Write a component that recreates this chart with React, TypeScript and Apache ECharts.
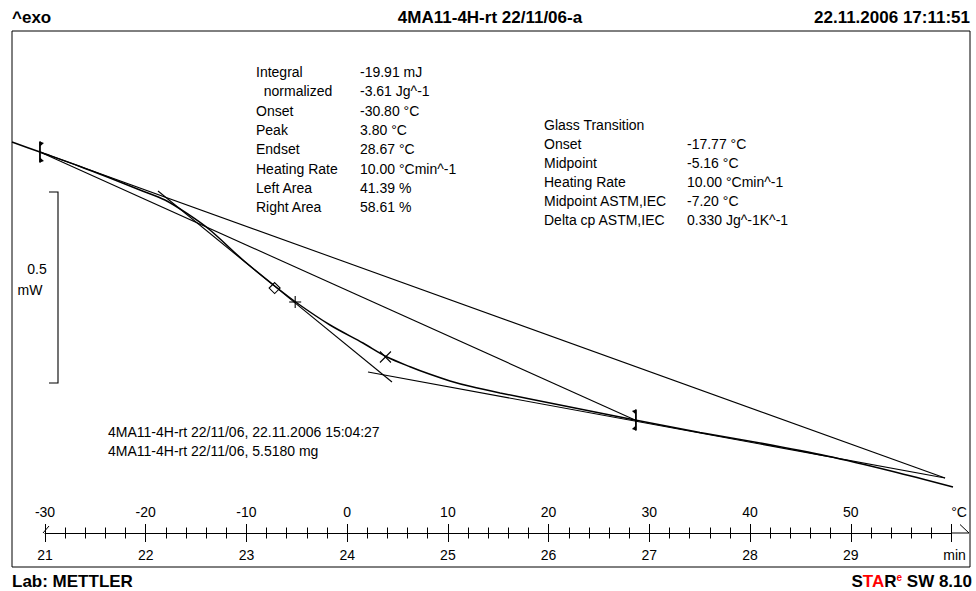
import React, { useEffect, useRef } from "react";
import * as echarts from "echarts";

// Measured DSC curve: time (min) against heat flow (mW), exo up
const curveTime = [
  20.672, 20.95, 21.348, 21.645, 21.943, 22.191, 22.41, 22.638, 22.966, 23.294,
  23.502, 23.83, 24.157, 24.396, 24.624, 24.823, 25.021, 25.22, 25.518, 26.113,
  26.858, 27.503, 28.099, 28.764, 29.419, 30.015,
];
const curveHeatFlow = [
  -0.4906, -0.5168, -0.5545, -0.5848, -0.6162, -0.6424, -0.6777, -0.7209, -0.7995,
  -0.8702, -0.912, -0.9696, -1.0168, -1.0534, -1.0788, -1.0987, -1.116, -1.1301,
  -1.1474, -1.1791, -1.2183, -1.251, -1.2785, -1.3126, -1.3531, -1.3937,
];

// Evaluation construction lines: [startTime, startHF, endTime, endHF]
const integrationBaseline = [20.95, -0.5168, 26.858, -1.2183];
const tangentBefore = [20.95, -0.5168, 29.936, -1.3702];
const tangentInflection = [22.122, -0.6188, 24.445, -1.1188];
const tangentAfter = [24.207, -1.0927, 29.936, -1.3702];

// Marker temperatures (°C) and the heat flow read at each (mW)
const limitTemps = [-30.5, 28.67];
const limitHeatFlow = [-0.5168, -1.2183];
const midpointAstmTemp = -7.2;
const midpointAstmHF = -0.8728;
const midpointTemp = -5.16;
const midpointHF = -0.9094;
const peakTemp = 3.8;
const peakHF = -1.0534;

// Ruler ticks
const timeTicks = [21, 22, 23, 24, 25, 26, 27, 28, 29, 30];
const tempTicks = [-30, -20, -10, 0, 10, 20, 30, 40, 50, 60];
const startTemp = -30;
const startTime = 21;
const heatingRate = 10; // K/min

// Evaluation result tables
const peakLabels = ["Integral", "  normalized", "Onset", "Peak", "Endset", "Heating Rate", "Left Area", "Right Area"];
const peakValues = ["-19.91 mJ", "-3.61 Jg^-1", "-30.80 °C", "3.80 °C", "28.67 °C", "10.00 °Cmin^-1", "41.39 %", "58.61 %"];
const glassLabels = ["Glass Transition", "Onset", "Midpoint", "Heating Rate", "Midpoint ASTM,IEC", "Delta cp ASTM,IEC"];
const glassValues = ["", "-17.77 °C", "-5.16 °C", "10.00 °Cmin^-1", "-7.20 °C", "0.330 Jg^-1K^-1"];
const sampleLines = ["4MA11-4H-rt 22/11/06, 22.11.2006 15:04:27", "4MA11-4H-rt 22/11/06, 5.5180 mg"];

const FONT_FAMILY = '"Liberation Sans", Arial, sans-serif';
const BODY_FONT = `14px ${FONT_FAMILY}`;
const BOLD_FONT = `bold 17px ${FONT_FAMILY}`;

const toTime = (temp: number) => startTime + (temp - startTemp) / heatingRate;

const segment = (seg: number[]) => [
  [seg[0], seg[1]],
  [seg[2], seg[3]],
];

export default function App() {
  const ref = useRef<HTMLDivElement>(null);

  useEffect(() => {
    document.body.style.margin = "0";
    if (!ref.current) return;
    const chart = echarts.init(ref.current, null, { renderer: "svg" });

    const lineSeries = (data: number[][], width: number, smooth: number | boolean = false) => ({
      type: "line",
      xAxisIndex: 0,
      yAxisIndex: 0,
      data,
      smooth,
      showSymbol: false,
      silent: true,
      clip: false,
      lineStyle: { color: "#000", width },
    });

    const markerData = [
      [toTime(limitTemps[0]), limitHeatFlow[0], 0],
      [toTime(limitTemps[1]), limitHeatFlow[1], 1],
      [toTime(midpointAstmTemp), midpointAstmHF, 2],
      [toTime(midpointTemp), midpointHF, 3],
      [toTime(peakTemp), peakHF, 4],
    ];

    const renderMarker = (_params: any, api: any) => {
      const p = api.coord([api.value(0), api.value(1)]);
      const kind = api.value(2);
      const x = p[0];
      const y = p[1];
      const stroke = { stroke: "#000", lineWidth: 1.1, fill: "none" };
      if (kind === 0 || kind === 1) {
        const d = kind === 0 ? 1 : -1;
        return {
          type: "group",
          children: [
            { type: "line", shape: { x1: x, y1: y - 10.5, x2: x, y2: y + 10.5 }, style: { stroke: "#000", lineWidth: 1.8 } },
            { type: "polygon", shape: { points: [[x, y - 10.5], [x + d * 4, y - 9], [x, y - 5.5]] }, style: { fill: "#000" } },
            { type: "polygon", shape: { points: [[x, y + 10.5], [x + d * 4, y + 9], [x, y + 5.5]] }, style: { fill: "#000" } },
          ],
        };
      }
      if (kind === 2) {
        return {
          type: "polygon",
          shape: { points: [[x, y - 5.5], [x + 5.5, y], [x, y + 5.5], [x - 5.5, y]] },
          style: { stroke: "#000", lineWidth: 1.1, fill: "#fff" },
        };
      }
      if (kind === 3) {
        return {
          type: "group",
          children: [
            { type: "line", shape: { x1: x - 6, y1: y, x2: x + 6, y2: y }, style: stroke },
            { type: "line", shape: { x1: x, y1: y - 6, x2: x, y2: y + 6 }, style: stroke },
          ],
        };
      }
      return {
        type: "group",
        children: [
          { type: "line", shape: { x1: x - 5.5, y1: y - 5.5, x2: x + 5.5, y2: y + 5.5 }, style: stroke },
          { type: "line", shape: { x1: x - 5.5, y1: y + 5.5, x2: x + 5.5, y2: y - 5.5 }, style: stroke },
        ],
      };
    };

    const rulerTickStyle = { color: "#000", width: 1 };
    const rulerLabel = { color: "#000", fontSize: 14, fontFamily: FONT_FAMILY };

    const textEl = (x: number, y: number, text: string, font: string, align = "left") => ({
      type: "text",
      x,
      y,
      silent: true,
      style: { text, font, fill: "#000", align, verticalAlign: "middle" },
    });

    const graphics: any[] = [
      textEl(12, 17, "^exo", BOLD_FONT),
      textEl(490, 17, "4MA11-4H-rt 22/11/06-a", BOLD_FONT, "center"),
      textEl(970, 17, "22.11.2006 17:11:51", BOLD_FONT, "right"),
      textEl(12, 581, "Lab: METTLER", BOLD_FONT),
      {
        type: "text",
        x: 972,
        y: 581,
        silent: true,
        style: {
          text: "{k|S}{r|TA}{k|R}{e|e}{k| SW 8.10}",
          align: "right",
          verticalAlign: "middle",
          rich: {
            k: { font: BOLD_FONT, fill: "#000" },
            r: { font: BOLD_FONT, fill: "#ff0000" },
            e: { font: `bold 10px ${FONT_FAMILY}`, fill: "#ff0000", verticalAlign: "top" },
          },
        },
      },
      // scale bar for heat flow
      {
        type: "polyline",
        silent: true,
        shape: { points: [[49, 192], [58, 192], [58, 383], [49, 383]] },
        style: { stroke: "#000", lineWidth: 1.1, fill: "none" },
      },
      textEl(37, 269, "0.5", BODY_FONT, "center"),
      textEl(30, 290, "mW", BODY_FONT, "center"),
      // ruler end marks
      {
        type: "line",
        silent: true,
        shape: { x1: 951.5, y1: 533, x2: 969, y2: 533 },
        style: { stroke: "#000", lineWidth: 1 },
      },
      {
        type: "line",
        silent: true,
        shape: { x1: 960, y1: 524.5, x2: 969, y2: 533 },
        style: { stroke: "#000", lineWidth: 1 },
      },
      {
        type: "line",
        silent: true,
        shape: { x1: 43, y1: 533, x2: 49, y2: 526 },
        style: { stroke: "#000", lineWidth: 1 },
      },
    ];

    peakLabels.forEach((label, i) => {
      const y = 72 + i * 19.3;
      graphics.push(textEl(256, y, label, BODY_FONT));
      graphics.push(textEl(360, y, peakValues[i], BODY_FONT));
    });
    glassLabels.forEach((label, i) => {
      const y = 125 + i * 19;
      graphics.push(textEl(544, y, label, BODY_FONT));
      if (glassValues[i]) graphics.push(textEl(687, y, glassValues[i], BODY_FONT));
    });
    sampleLines.forEach((line, i) => {
      graphics.push(textEl(108, 432 + i * 19, line, BODY_FONT));
    });

    const lastTime = timeTicks[timeTicks.length - 1];
    const lastTemp = tempTicks[tempTicks.length - 1];

    chart.setOption({
      animation: false,
      backgroundColor: "#fff",
      grid: [
        { left: 12, right: 6, top: 31, bottom: 24, show: true, borderColor: "#000", borderWidth: 1, backgroundColor: "transparent" },
        { left: 45, right: 24.5, top: 400, bottom: 58 },
      ],
      xAxis: [
        { gridIndex: 0, type: "value", min: 20.6724, max: 30.1838, show: false },
        {
          gridIndex: 1,
          type: "value",
          min: timeTicks[0],
          max: lastTime,
          interval: 1,
          position: "bottom",
          axisLine: { show: true, lineStyle: rulerTickStyle },
          axisTick: { show: true, length: 9, lineStyle: rulerTickStyle },
          minorTick: { show: true, splitNumber: 5, length: 5.5, lineStyle: rulerTickStyle },
          splitLine: { show: false },
          axisLabel: {
            ...rulerLabel,
            margin: 15,
            showMinLabel: true,
            showMaxLabel: true,
            formatter: (v: number) => (v === lastTime ? "{u|min}" : String(v)),
            rich: { u: { ...rulerLabel, padding: [0, 0, 0, 6] } },
          },
        },
        {
          gridIndex: 1,
          type: "value",
          min: tempTicks[0],
          max: lastTemp,
          interval: 10,
          position: "bottom",
          axisLine: { show: false },
          axisTick: { show: true, inside: true, length: 9, lineStyle: rulerTickStyle },
          minorTick: { show: true, splitNumber: 5, length: 5.5, lineStyle: rulerTickStyle },
          splitLine: { show: false },
          axisLabel: {
            ...rulerLabel,
            inside: true,
            margin: 14,
            showMinLabel: true,
            showMaxLabel: true,
            formatter: (v: number) => (v === lastTemp ? "{u|°C}" : String(v)),
            rich: { u: { ...rulerLabel, padding: [0, 0, 0, 15] } },
          },
        },
      ],
      yAxis: [
        { gridIndex: 0, type: "value", min: -1.6031, max: -0.2, show: false },
        { gridIndex: 1, type: "value", min: 0, max: 1, show: false },
      ],
      series: [
        lineSeries(segment(tangentBefore), 1.1),
        lineSeries(segment(integrationBaseline), 1.1),
        lineSeries(segment(tangentInflection), 1.1),
        lineSeries(segment(tangentAfter), 1.1),
        lineSeries(curveTime.map((t, i) => [t, curveHeatFlow[i]]), 1.5, 0.3),
        {
          type: "custom",
          xAxisIndex: 0,
          yAxisIndex: 0,
          silent: true,
          clip: false,
          data: markerData,
          renderItem: renderMarker,
        },
      ],
      graphic: graphics,
    });

    return () => chart.dispose();
  }, []);

  return <div ref={ref} style={{ width: 976, height: 591 }} />;
}
